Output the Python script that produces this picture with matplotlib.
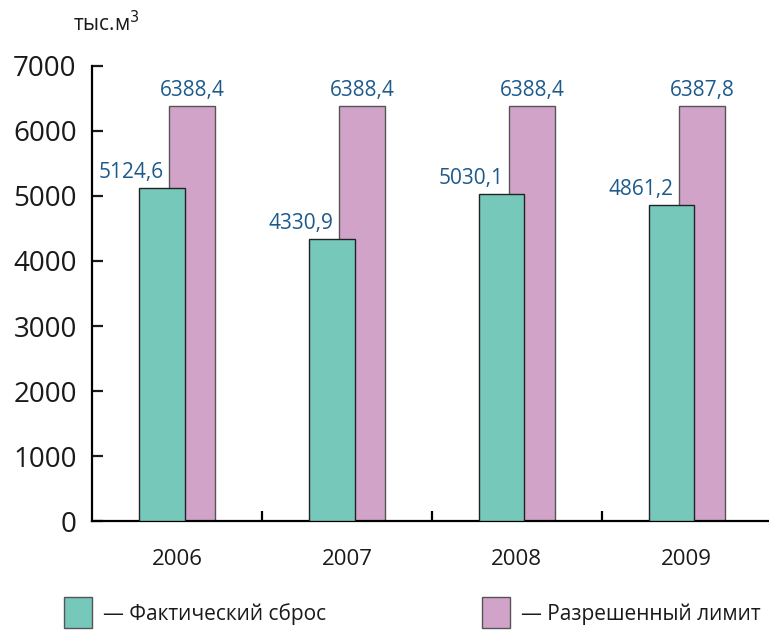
import matplotlib
matplotlib.use("Agg")
import matplotlib.pyplot as plt
from matplotlib.patches import Rectangle
import numpy as np

plt.rcParams['font.family'] = ['Open Sans', 'DejaVu Sans']

years = ['2006', '2007', '2008', '2009']
actual = [5124.6, 4330.9, 5030.1, 4861.2]
limit = [6388.4, 6388.4, 6388.4, 6387.8]
series_names = ['Фактический сброс', 'Разрешенный лимит']
unit = 'тыс.м$^3$'

green = '#76c8bb'
pink = '#d2a3c9'
label_blue = '#1d5a8c'


def fmt(v):
    return ('%.1f' % v).replace('.', ',')


fig = plt.figure(figsize=(7.69, 6.32), dpi=100)
ax = fig.add_axes([0.1196, 0.1756, 0.884, 0.72])

centers = np.arange(len(years)) + 0.5
w = 0.27
off = 0.09

# limit bars go underneath, actual bars overlap them
ax.bar(centers + off, limit, width=w, color=pink, edgecolor='#555555',
       linewidth=1.0, zorder=2)
ax.bar(centers - off, actual, width=w, color=green, edgecolor='#222222',
       linewidth=1.0, zorder=3)

for x, v in zip(centers, actual):
    ax.text(x - off + 0.012, v + 80, fmt(v), ha='right', va='bottom',
            color=label_blue, fontsize=15)
for x, v in zip(centers, limit):
    ax.text(x + off, v + 80, fmt(v), ha='center', va='bottom',
            color=label_blue, fontsize=15)

ax.set_xlim(0, len(years))
ax.set_ylim(0, 7000)
ax.spines['top'].set_visible(False)
ax.spines['right'].set_visible(False)
ax.spines['left'].set_linewidth(1.6)
ax.spines['bottom'].set_linewidth(1.6)

ax.set_yticks(np.arange(0, 7001, 1000))
ax.tick_params(axis='y', direction='in', length=8, width=1.6,
               labelsize=20, pad=11, colors='#1a1a1a')
ax.set_xticks([1, 2, 3])
ax.set_xticklabels([])
ax.tick_params(axis='x', which='major', direction='in', length=7, width=1.6)
ax.set_xticks(centers, minor=True)
ax.set_xticklabels(years, minor=True)
ax.tick_params(axis='x', which='minor', length=0, pad=20, labelsize=16,
               colors='#1a1a1a')

fig.text(73 / 769, 1 - 24 / 632, unit, fontsize=15, ha='left', va='center',
         color='#1a1a1a')

# legend
for (x0, color, name) in [(64, green, series_names[0]),
                           (482, pink, series_names[1])]:
    fig.add_artist(Rectangle((x0 / 769, 1 - 628 / 632), 28 / 769, 31 / 632,
                             transform=fig.transFigure, facecolor=color,
                             edgecolor='#555555', linewidth=1.0))
    fig.text((x0 + 39) / 769, 1 - 614 / 632, '— ' + name, fontsize=15,
             ha='left', va='center', color='#1a1a1a')

fig.savefig('out.png', dpi=100)
